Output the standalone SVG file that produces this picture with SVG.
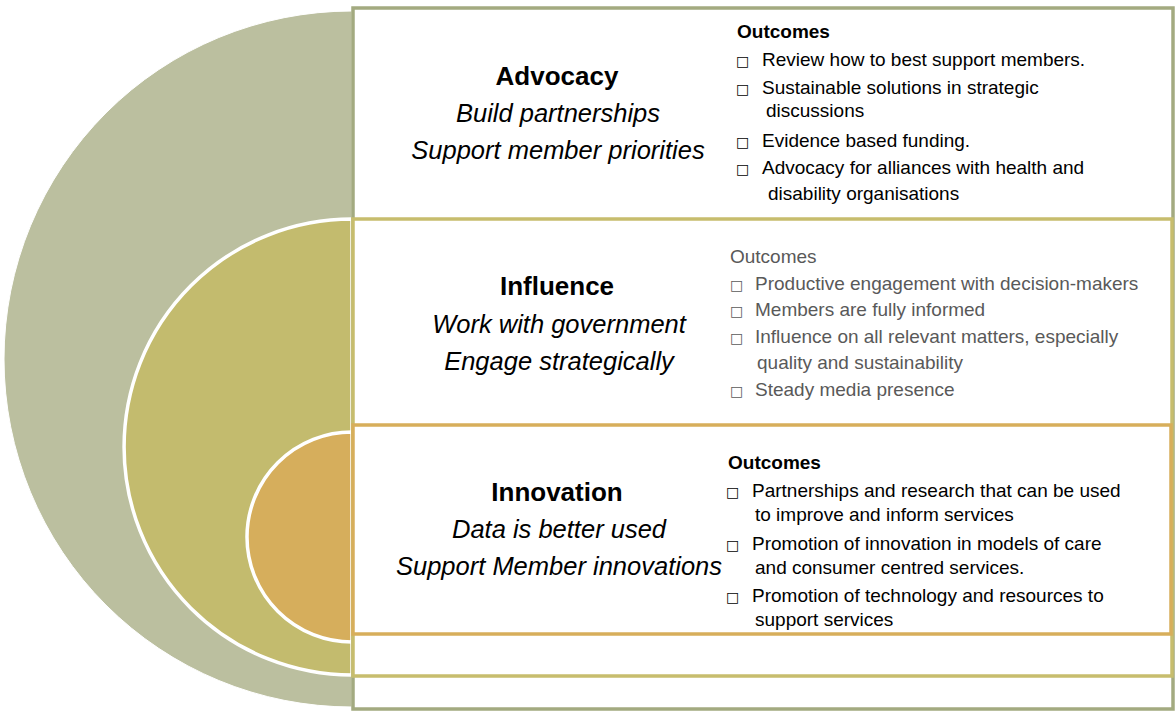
<svg xmlns="http://www.w3.org/2000/svg" width="1176" height="712" viewBox="0 0 1176 712">
  <style>
    .title { font-family: "Liberation Sans", Arial, sans-serif; font-size: 26px; font-weight: bold; fill: #000; text-anchor: middle; }
    .sub { font-family: "Liberation Sans", Arial, sans-serif; font-size: 25.5px; font-style: italic; fill: #000; text-anchor: middle; }
    .out { font-family: "Liberation Sans", Arial, sans-serif; font-size: 19px; fill: #000; }
    .outb { font-weight: bold; }
    .grey { fill: #595959; }
    .bul { font-family: "DejaVu Sans", sans-serif; font-size: 14px; }
    .box { fill: #ffffff; stroke-width: 3.5; }
  </style>

  <!-- concentric half-disks -->
  <g id="rings">
    <path d="M352,11 A348,348 0 0 0 352,707 Z" fill="#bbbf9f" stroke="#ffffff" stroke-width="1"/>
    <path d="M352,219 A228,228 0 0 0 352,675 Z" fill="#c3bb6e" stroke="#ffffff" stroke-width="3.5"/>
    <path d="M352,432 A105,105 0 0 0 352,642 Z" fill="#d6ae5c" stroke="#ffffff" stroke-width="3.5"/>
  </g>

  <!-- Advocacy (outer frame) -->
  <g id="advocacy">
    <rect class="box" x="353" y="8" width="820" height="701" stroke="#a3aa80"/>
    <text class="title" x="557" y="85">Advocacy</text>
    <text class="sub" x="558" y="122">Build partnerships</text>
    <text class="sub" x="558" y="159">Support member priorities</text>
    <text class="out outb" x="737" y="38">Outcomes</text>
    <text class="out bul" x="736" y="66">□</text>
    <text class="out" x="762" y="66">Review how to best support members.</text>
    <text class="out bul" x="736" y="94">□</text>
    <text class="out" x="762" y="94">Sustainable solutions in strategic</text>
    <text class="out" x="766" y="117">discussions</text>
    <text class="out bul" x="736" y="147">□</text>
    <text class="out" x="762" y="147">Evidence based funding.</text>
    <text class="out bul" x="736" y="174">□</text>
    <text class="out" x="762" y="174">Advocacy for alliances with health and</text>
    <text class="out" x="768" y="200">disability organisations</text>
  </g>

  <!-- Influence (middle frame) -->
  <g id="influence">
    <rect class="box" x="353" y="219" width="819" height="457" stroke="#c7bd6d"/>
    <text class="title" x="557" y="295">Influence</text>
    <text class="sub" x="559" y="333">Work with government</text>
    <text class="sub" x="559" y="370">Engage strategically</text>
    <text class="out grey" x="730" y="263">Outcomes</text>
    <text class="out grey bul" x="730" y="290">□</text>
    <text class="out grey" x="755" y="290">Productive engagement with decision-makers</text>
    <text class="out grey bul" x="730" y="316">□</text>
    <text class="out grey" x="755" y="316">Members are fully informed</text>
    <text class="out grey bul" x="730" y="343">□</text>
    <text class="out grey" x="755" y="343">Influence on all relevant matters, especially</text>
    <text class="out grey" x="757" y="369">quality and sustainability</text>
    <text class="out grey bul" x="730" y="396">□</text>
    <text class="out grey" x="755" y="396">Steady media presence</text>
  </g>

  <!-- Innovation (inner frame) -->
  <g id="innovation">
    <rect class="box" x="353" y="425" width="818" height="209" stroke="#d7ae5b"/>
    <text class="title" x="557" y="501">Innovation</text>
    <text class="sub" x="559" y="538">Data is better used</text>
    <text class="sub" x="559" y="575">Support Member innovations</text>
    <text class="out outb" x="728" y="469">Outcomes</text>
    <text class="out bul" x="726" y="497">□</text>
    <text class="out" x="752" y="497">Partnerships and research that can be used</text>
    <text class="out" x="755" y="521">to improve and inform services</text>
    <text class="out bul" x="726" y="550">□</text>
    <text class="out" x="752" y="550">Promotion of innovation in models of care</text>
    <text class="out" x="755" y="574">and consumer centred services.</text>
    <text class="out bul" x="726" y="602">□</text>
    <text class="out" x="752" y="602">Promotion of technology and resources to</text>
    <text class="out" x="755" y="626">support services</text>
  </g>

  <g id="connectors"/>
</svg>
